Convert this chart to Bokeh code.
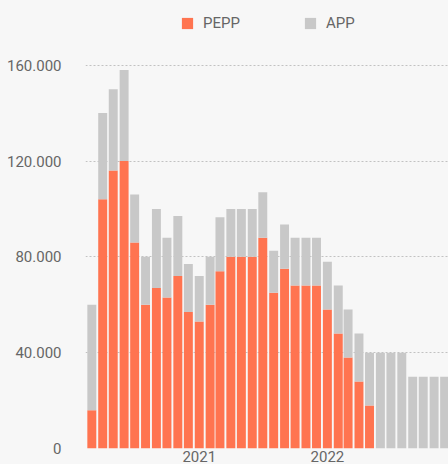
import pandas as pd
from bokeh.plotting import figure
from bokeh.models import ColumnDataSource, FixedTicker, Legend, LegendItem, Range1d, DatetimeTickFormatter
from bokeh.embed import file_html
from bokeh.resources import INLINE

months = ["2020-03", "2020-04", "2020-05", "2020-06", "2020-07", "2020-08", "2020-09",
          "2020-10", "2020-11", "2020-12", "2021-01", "2021-02", "2021-03", "2021-04",
          "2021-05", "2021-06", "2021-07", "2021-08", "2021-09", "2021-10", "2021-11",
          "2021-12", "2022-01", "2022-02", "2022-03", "2022-04", "2022-05", "2022-06",
          "2022-07", "2022-08", "2022-09", "2022-10", "2022-11", "2022-12"]
pepp = [16000, 104000, 116000, 120000, 86000, 60000, 67000, 63000, 72000, 57000,
        53000, 60000, 74000, 80000, 80000, 80000, 88000, 65000, 75000, 68000,
        68000, 68000, 58000, 48000, 38000, 28000, 18000, 0, 0, 0, 0, 0, 0, 0]
app = [44000, 36000, 34000, 38000, 20000, 20000, 33000, 25000, 25000, 20000,
       19000, 20000, 22500, 20000, 20000, 20000, 19000, 17500, 18500, 20000,
       20000, 20000, 20000, 20000, 20000, 20000, 22000, 40000, 40000, 40000,
       30000, 30000, 30000, 30000]
series_names = ["PEPP", "APP"]
y_ticks = [0, 40000, 80000, 120000, 160000]
y_tick_labels = ["0", "40.000", "80.000", "120.000", "160.000"]
x_tick_dates = ["2021-01-01", "2022-01-01"]

ORANGE = "#FF7450"
GRAY = "#C8C8C8"
BG = "#F7F7F7"
TXT = "#666666"
FONT = "Roboto"

src = ColumnDataSource(dict(date=pd.to_datetime(months), pepp=pepp, app=app))

p = figure(width=448, height=464, x_axis_type="datetime",
           output_backend="svg", toolbar_location=None,
           x_range=Range1d(pd.Timestamp("2020-02-12"), pd.Timestamp("2022-12-12")),
           y_range=Range1d(0, 187000),
           min_border_left=85, min_border_right=0, min_border_top=0, min_border_bottom=0)
p.background_fill_color = BG
p.border_fill_color = BG
p.outline_line_color = None

bar_w = 25.5 * 24 * 3600 * 1000
rs = p.vbar_stack(["pepp", "app"], x="date", width=bar_w, color=[ORANGE, GRAY],
                  line_color=None, source=src)

# axes
p.yaxis.ticker = FixedTicker(ticks=y_ticks)
p.yaxis.major_label_overrides = {t: l for t, l in zip(y_ticks, y_tick_labels)}
p.xaxis.ticker = FixedTicker(ticks=[pd.Timestamp(d).value // 10**6 for d in x_tick_dates])
p.xaxis.formatter = DatetimeTickFormatter(years="%Y", months="%Y", days="%Y", hours="%Y")
for ax in (p.xaxis, p.yaxis):
    ax.axis_line_color = None
    ax.major_tick_line_color = None
    ax.minor_tick_line_color = None
    ax.major_tick_out = 0
    ax.major_tick_in = 0
    ax.minor_tick_out = 0
    ax.minor_tick_in = 0
    ax.major_label_text_font = FONT
    ax.major_label_text_font_size = "15px"
    ax.major_label_text_color = TXT
p.yaxis.major_label_standoff = 24
p.xaxis.major_label_standoff = 2

p.xgrid.grid_line_color = None
p.ygrid.ticker = FixedTicker(ticks=y_ticks)
p.ygrid.grid_line_color = "#C2C2C2"
p.ygrid.grid_line_dash = "2 2"
p.ygrid.grid_line_width = 1

legend = Legend(items=[LegendItem(label=series_names[0], renderers=[rs[0]]),
                       LegendItem(label=series_names[1], renderers=[rs[1]])],
                orientation="horizontal", location=(95, 416))
legend.glyph_width = 14
legend.glyph_height = 14
legend.label_standoff = 9
legend.label_width = 90
legend.spacing = 10
legend.padding = 0
legend.margin = 0
legend.border_line_color = None
legend.background_fill_alpha = 0
legend.label_text_font = FONT
legend.label_text_font_size = "15px"
legend.label_text_color = TXT
p.add_layout(legend, "center")

html = file_html(p, INLINE)
html = html.replace("<head>", "<head><style>html,body{background:#F7F7F7;}</style>", 1)
open("out.html", "w").write(html)
